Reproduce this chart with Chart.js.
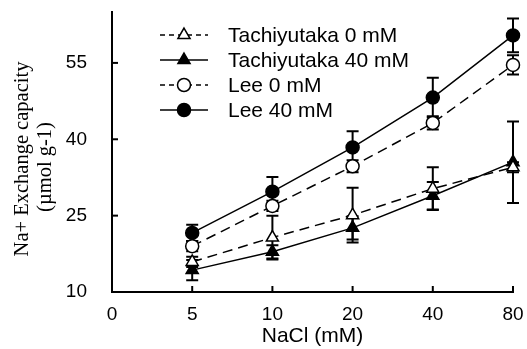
<!DOCTYPE html>
<html><head><meta charset="utf-8">
<script src="https://cdn.jsdelivr.net/npm/chart.js@4.4.0/dist/chart.umd.min.js"></script>
<style>html,body{margin:0;padding:0;background:#fff;}#wrap{width:527px;height:349px;}</style>
</head><body><div id="wrap"><canvas id="c" width="527" height="349"></canvas></div>
<script>
// ---- data ----
const categories = ['0', '5', '10', '20', '40', '80'];
const pointCategories = ['5', '10', '20', '40', '80'];
const yTickValues = [10, 25, 40, 55];
const seriesNames = ['Tachiyutaka 0 mM', 'Tachiyutaka 40 mM', 'Lee 0 mM', 'Lee 40 mM'];
const tachi0 = [15.9, 20.7, 25.1, 30.3, 34.5];
const tachi0Err = [1.0, 4.3, 5.4, 4.2, 1.0];
const tachi40 = [14.3, 17.9, 22.6, 28.9, 35.5];
const tachi40Err = [2.0, 1.3, 2.3, 2.7, 8.0];
const lee0 = [19.0, 26.9, 34.7, 43.2, 54.6];
const lee0Err = [1.0, 1.0, 1.2, 1.3, 1.9];
const lee40 = [21.6, 29.7, 38.4, 48.2, 60.4];
const lee40Err = [1.6, 2.9, 3.2, 3.9, 3.3];
const yTitleLines = ['Na+ Exchange capacity', '(\u00b5mol g-1)'];
const xTitle = 'NaCl (mM)';

const values = [tachi0, tachi40, lee0, lee40];
const errors = [tachi0Err, tachi40Err, lee0Err, lee40Err];
const dashed = [true, false, true, false];
const styles = ['triangle', 'triangle', 'circle', 'circle'];
const filled = [false, true, false, true];

const datasets = values.map((arr, i) => ({
  label: seriesNames[i],
  data: arr.map((v, j) => ({x: pointCategories[j], y: v})),
  errors: errors[i],
  borderColor: '#000',
  borderWidth: 1.5,
  borderDash: dashed[i] ? [10, 6] : [],
  pointStyle: styles[i],
  pointRadius: styles[i] === 'triangle' ? 7 : 6.5,
  pointBorderWidth: 1.5,
  pointBorderColor: '#000',
  pointBackgroundColor: filled[i] ? '#000' : '#fff',
  fill: false,
  tension: 0
}));

const errorBars = {
  id: 'errorBars',
  beforeDatasetsDraw(chart) {
    const ctx = chart.ctx, y = chart.scales.y;
    ctx.save();
    ctx.strokeStyle = '#000';
    ctx.lineWidth = 2;
    ctx.setLineDash([]);
    chart.data.datasets.forEach((ds, i) => {
      const meta = chart.getDatasetMeta(i);
      meta.data.forEach((pt, j) => {
        const v = ds.data[j].y, e = ds.errors[j];
        const top = y.getPixelForValue(v + e), bot = y.getPixelForValue(v - e);
        ctx.beginPath();
        ctx.moveTo(pt.x, top); ctx.lineTo(pt.x, bot);
        ctx.moveTo(pt.x - 6, top); ctx.lineTo(pt.x + 6, top);
        ctx.moveTo(pt.x - 6, bot); ctx.lineTo(pt.x + 6, bot);
        ctx.stroke();
      });
    });
    ctx.restore();
  }
};

const extras = {
  id: 'extras',
  afterDraw(chart) {
    const ctx = chart.ctx, xs = chart.scales.x, ys = chart.scales.y, ca = chart.chartArea;
    ctx.save();
    ctx.strokeStyle = '#000';
    ctx.lineWidth = 2;
    ctx.setLineDash([]);
    // inward tick marks
    categories.forEach((c, i) => {
      const px = xs.getPixelForValue(i);
      ctx.beginPath(); ctx.moveTo(px, ca.bottom); ctx.lineTo(px, ca.bottom - 6); ctx.stroke();
    });
    yTickValues.forEach(v => {
      const py = ys.getPixelForValue(v);
      ctx.beginPath(); ctx.moveTo(ca.left, py); ctx.lineTo(ca.left + 6, py); ctx.stroke();
    });
    // y title
    ctx.fillStyle = '#000';
    ctx.font = '20.5px "Liberation Serif", serif';
    ctx.textAlign = 'center';
    ctx.textBaseline = 'middle';
    const cy = [159, 167], cx = [23, 46];
    yTitleLines.forEach((t, i) => {
      ctx.save();
      ctx.translate(cx[i], cy[i]);
      ctx.rotate(-Math.PI / 2);
      ctx.fillText(t, 0, 0);
      ctx.restore();
    });
    // legend
    ctx.font = '21px "Liberation Sans", Arial, sans-serif';
    ctx.textAlign = 'left';
    chart.data.datasets.forEach((ds, i) => {
      const ry = 35 + i * 25;
      ctx.lineWidth = 1.5;
      ctx.strokeStyle = '#000';
      ctx.setLineDash(dashed[i] ? [5, 4] : []);
      ctx.beginPath(); ctx.moveTo(160, ry); ctx.lineTo(208, ry); ctx.stroke();
      ctx.setLineDash([]);
      ctx.fillStyle = ds.pointBackgroundColor;
      Chart.helpers.drawPoint(ctx, {pointStyle: ds.pointStyle, radius: ds.pointRadius, borderWidth: 1.5}, 184, ry);
      ctx.fillStyle = '#000';
      ctx.fillText(ds.label, 228, ry + 1);
    });
    ctx.restore();
  }
};

new Chart(document.getElementById('c'), {
  type: 'line',
  data: {labels: categories, datasets},
  plugins: [errorBars, extras],
  options: {
    responsive: false,
    animation: false,
    devicePixelRatio: 1,
    layout: {padding: {top: 12, right: 14, left: 0, bottom: 0}},
    plugins: {legend: {display: false}, tooltip: {enabled: false}},
    scales: {
      x: {
        type: 'category',
        labels: categories,
        offset: false,
        grid: {display: false, drawTicks: false},
        border: {display: true, color: '#000', width: 2},
        ticks: {color: '#000', font: {family: '"Liberation Sans", Arial, sans-serif', size: 19}, padding: 11, maxRotation: 0, autoSkip: false},
        title: {display: true, text: xTitle, color: '#000', font: {family: '"Liberation Sans", Arial, sans-serif', size: 21}, padding: 0},
        afterFit: s => { s.height = 57; s.paddingLeft = 0; s.paddingRight = 0; }
      },
      y: {
        min: 10, max: 65,
        grid: {display: false, drawTicks: false},
        border: {display: true, color: '#000', width: 2},
        afterBuildTicks: s => { s.ticks = yTickValues.map(v => ({value: v})); },
        ticks: {color: '#000', font: {family: '"Liberation Sans", Arial, sans-serif', size: 19}, padding: 25},
        afterFit: s => { s.width = 112; s.paddingTop = 0; s.paddingBottom = 0; }
      }
    }
  }
});
</script></body></html>
